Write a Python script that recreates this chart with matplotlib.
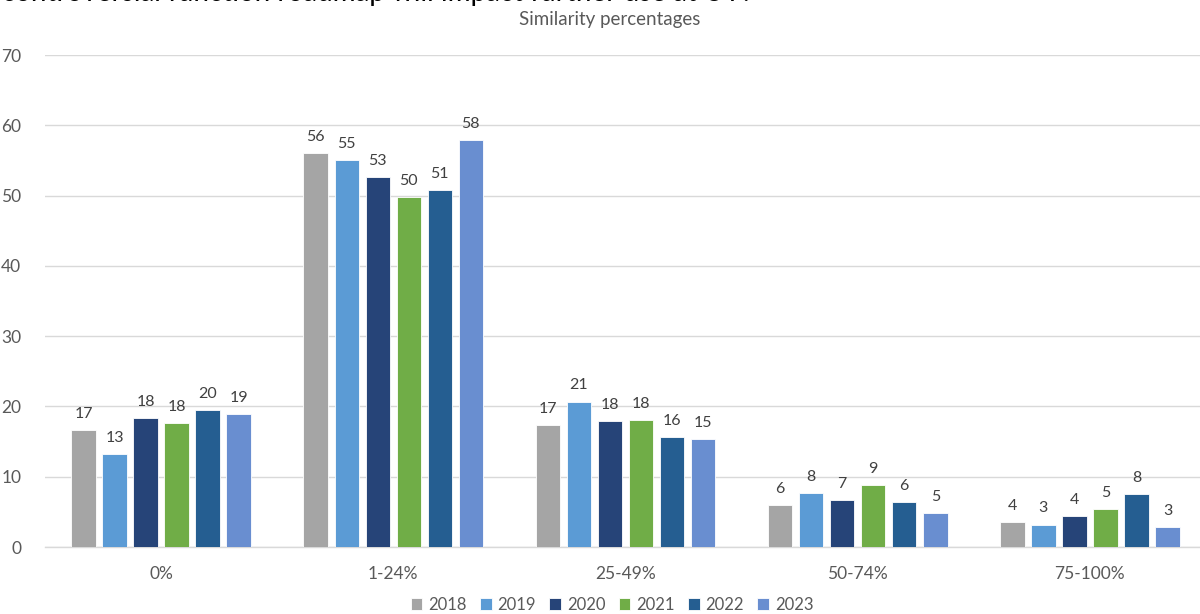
import matplotlib
matplotlib.use("Agg")
import matplotlib.pyplot as plt
import numpy as np

categories = ["0%", "1-24%", "25-49%", "50-74%", "75-100%"]
years = ["2018", "2019", "2020", "2021", "2022", "2023"]
v2018 = [16.6, 56.0, 17.4, 6.0, 3.6]
v2019 = [13.2, 55.0, 20.7, 7.7, 3.2]
v2020 = [18.3, 52.7, 17.9, 6.7, 4.4]
v2021 = [17.6, 49.8, 18.0, 8.8, 5.4]
v2022 = [19.5, 50.8, 15.6, 6.4, 7.6]
v2023 = [18.9, 57.9, 15.3, 4.8, 2.9]
series = [v2018, v2019, v2020, v2021, v2022, v2023]
colors = ["#A5A5A5", "#5B9BD5", "#264478", "#70AD47", "#255E91", "#698ED0"]
yticks = [0, 10, 20, 30, 40, 50, 60, 70]
title = "Similarity percentages"
top_text = "controversial function roadmap will impact further use at UT?"

plt.rcParams['font.family'] = ['Lato', 'DejaVu Sans']
W, H = 1200, 614
fig = plt.figure(figsize=(W / 100, H / 100), dpi=100)
left_px, right_px, top_px, bot_px = 45, 1206, 55, 547
ax = fig.add_axes([left_px / W, 1 - bot_px / H, (right_px - left_px) / W, (bot_px - top_px) / H])

x = np.arange(len(categories))
step = 0.1336
width = 0.1056
gray_txt = "#595959"
for j, (vals, c, yr) in enumerate(zip(series, colors, years)):
    pos = x + (j - 2.5) * step
    bars = ax.bar(pos, vals, width=width, color=c, edgecolor="white", linewidth=0.6, label=yr, zorder=3)
    for b, v in zip(bars, vals):
        ax.annotate(f"{round(v):d}", (b.get_x() + b.get_width() / 2, v), xytext=(0, 6.5),
                    textcoords="offset points", ha="center", va="bottom", fontsize=11.5, color="#404040")

ax.set_xlim(-0.5, len(categories) - 0.5)
ax.set_ylim(0, 70)
ax.set_yticks(yticks)
ax.yaxis.grid(True, color="#D9D9D9", linewidth=1, zorder=0)
ax.set_axisbelow(True)
for s in ["top", "right", "left"]:
    ax.spines[s].set_visible(False)
ax.spines["bottom"].set_color("#D9D9D9")
ax.spines["bottom"].set_linewidth(1)
ax.set_xticks(x)
ax.set_xticklabels(categories)
ax.tick_params(axis="both", length=0, colors=gray_txt, labelsize=12.5)
ax.tick_params(axis="x", pad=14)
ax.tick_params(axis="y", pad=17)

fig.text(610 / W, 1 - 20 / H, title, ha="center", va="center", fontsize=13.5, color=gray_txt)
fig.text(2 / W, 1 - 1 / H, top_text, ha="left", va="baseline", fontsize=20, color="black")

handles, labels = ax.get_legend_handles_labels()
leg = fig.legend(handles, labels, loc="center", bbox_to_anchor=(612 / W, 1 - 605 / H), ncol=6,
                 frameon=False, fontsize=12, handlelength=0.7, handleheight=0.7,
                 handletextpad=0.35, columnspacing=0.8, labelcolor=gray_txt)

fig.savefig("out.png", dpi=100)
